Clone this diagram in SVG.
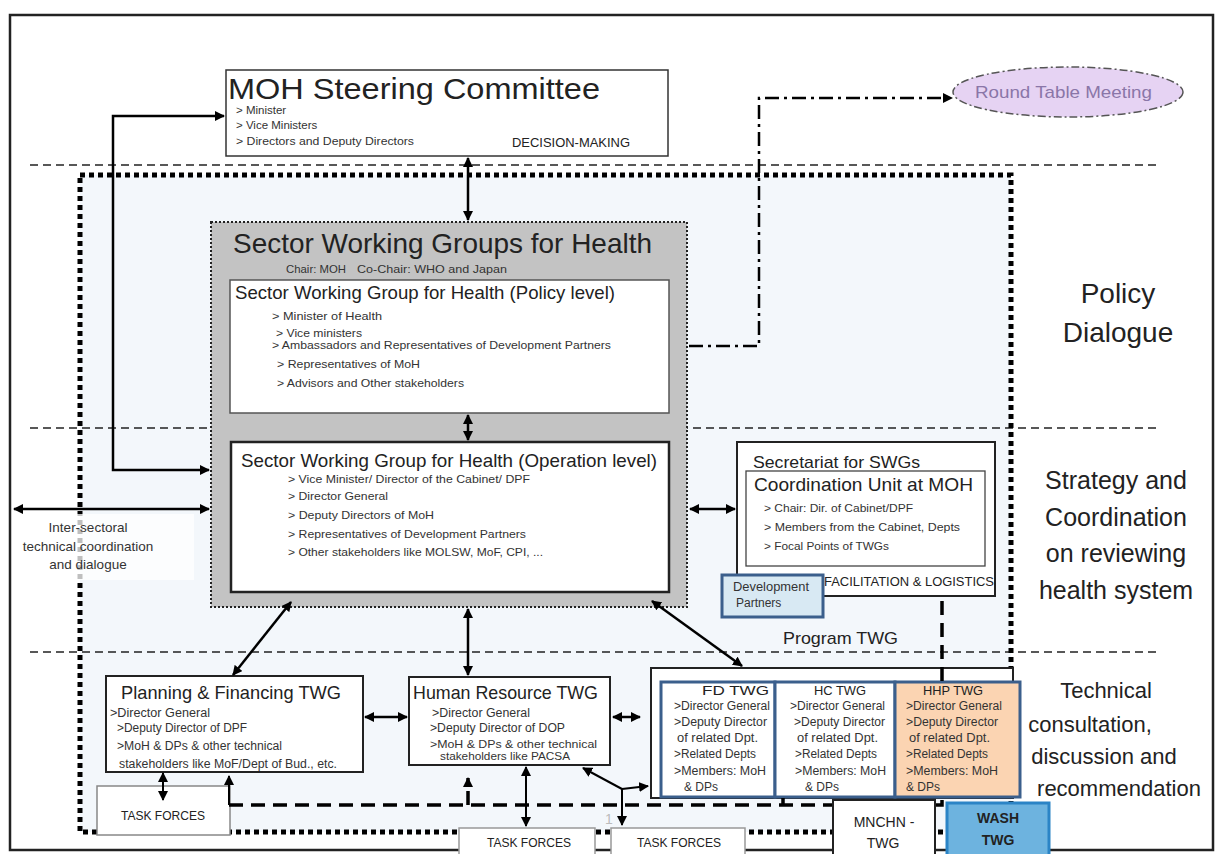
<svg xmlns="http://www.w3.org/2000/svg" width="1218" height="854" viewBox="0 0 1218 854">
<defs>
<style>
.t{font-family:"Liberation Sans",Arial,sans-serif;fill:#333}
.d{fill:#222}
.s{font-size:11.5px}
.w{font-size:12px}
.box{fill:#fff;stroke:#333;stroke-width:1.5}
.lvl{fill:none;stroke:#222;stroke-width:1.5;stroke-dasharray:8 5}
.con{fill:none;stroke:#000;stroke-width:2.5}
.twg{stroke:#3b5f8c;stroke-width:3}
.tdash{fill:none;stroke:#000;stroke-width:3.5;stroke-dasharray:14 8}
.rc{font-size:25px;text-anchor:middle}
</style>
<marker id="ah" viewBox="0 0 10 10" refX="9" refY="5" markerWidth="10" markerHeight="10" markerUnits="userSpaceOnUse" orient="auto-start-reverse"><path d="M0,0 L10,5 L0,10 z" fill="#000"/></marker>
</defs>
<rect x="0" y="0" width="1218" height="854" fill="#fff"/>
<rect x="10" y="15" width="1203" height="835" fill="#fff" stroke="#222" stroke-width="2.5"/>
<rect x="80" y="175" width="931" height="657" fill="#f3f7fb"/>
<g id="levels">
<line class="lvl" x1="30" y1="165" x2="1157" y2="165"/>
<line class="lvl" x1="30" y1="428" x2="1157" y2="428"/>
<line class="lvl" x1="30" y1="652" x2="1157" y2="652"/>
</g>
<rect id="boundary" x="80" y="175" width="931" height="657" fill="none" stroke="#000" stroke-width="5" stroke-dasharray="5 4"/>

<g id="intersectoral">
<rect x="14" y="514" width="180" height="66" fill="#fff" opacity="0.75"/>
<text class="t" font-size="13.5" text-anchor="middle"><tspan x="88" y="532">Inter-sectoral</tspan><tspan x="88" y="551">technical coordination</tspan><tspan x="88" y="569">and dialogue</tspan></text>
</g>

<g id="moh">
<rect class="box" x="226" y="70" width="442" height="86"/>
<text class="t d" x="228" y="99" font-size="30" textLength="372" lengthAdjust="spacingAndGlyphs">MOH Steering Committee</text>
<text class="t s" x="236" y="114">&gt; Minister</text>
<text class="t s" x="236" y="129">&gt; Vice Ministers</text>
<text class="t s" x="236" y="145" textLength="178" lengthAdjust="spacingAndGlyphs">&gt; Directors and Deputy Directors</text>
<text class="t d" x="512" y="147" font-size="13" textLength="118" lengthAdjust="spacingAndGlyphs">DECISION-MAKING</text>
</g>

<g id="roundtable">
<ellipse cx="1068" cy="92" rx="115" ry="25" fill="#e6d3f3" stroke="#555" stroke-width="1.5" stroke-dasharray="8 3 2 3"/>
<text class="t" x="975" y="98" font-size="17" style="fill:#8a76a8" textLength="177" lengthAdjust="spacingAndGlyphs">Round Table Meeting</text>
</g>

<g id="swg">
<rect x="211" y="222" width="476" height="385" fill="#c3c3c3" stroke="#222" stroke-width="2" stroke-dasharray="2 2"/>
<text class="t d" x="233" y="253" font-size="28" textLength="419" lengthAdjust="spacingAndGlyphs">Sector Working Groups for Health</text>
<text class="t" x="286" y="273" font-size="11" textLength="60" lengthAdjust="spacingAndGlyphs">Chair: MOH</text>
<text class="t" x="357" y="273" font-size="11" textLength="150" lengthAdjust="spacingAndGlyphs">Co-Chair: WHO and Japan</text>
</g>

<g id="policy">
<rect x="230" y="280" width="439" height="133" fill="#fff" stroke="#555" stroke-width="1.5"/>
<text class="t d" x="235" y="299" font-size="18.5" textLength="380" lengthAdjust="spacingAndGlyphs">Sector Working Group for Health (Policy level)</text>
<text class="t s" x="272" y="320" textLength="110" lengthAdjust="spacingAndGlyphs">&gt; Minister of Health</text>
<text class="t s" x="276" y="337" textLength="86" lengthAdjust="spacingAndGlyphs">&gt; Vice ministers</text>
<text class="t s" x="272" y="349" textLength="339" lengthAdjust="spacingAndGlyphs">&gt; Ambassadors and Representatives of Development Partners</text>
<text class="t s" x="277" y="368" textLength="143" lengthAdjust="spacingAndGlyphs">&gt; Representatives of MoH</text>
<text class="t s" x="277" y="387" textLength="187" lengthAdjust="spacingAndGlyphs">&gt; Advisors and Other stakeholders</text>
</g>

<g id="operation">
<rect x="231" y="442" width="438" height="150" fill="#fff" stroke="#222" stroke-width="2.5"/>
<text class="t d" x="241" y="467" font-size="18.5" textLength="416" lengthAdjust="spacingAndGlyphs">Sector Working Group for Health (Operation level)</text>
<text class="t s" x="288" y="483" textLength="242" lengthAdjust="spacingAndGlyphs">&gt; Vice Minister/ Director of the Cabinet/ DPF</text>
<text class="t s" x="288" y="500" textLength="100" lengthAdjust="spacingAndGlyphs">&gt; Director General</text>
<text class="t s" x="288" y="519" textLength="146" lengthAdjust="spacingAndGlyphs">&gt; Deputy Directors of MoH</text>
<text class="t s" x="288" y="538" textLength="238" lengthAdjust="spacingAndGlyphs">&gt; Representatives of Development Partners</text>
<text class="t s" x="288" y="556" textLength="255" lengthAdjust="spacingAndGlyphs">&gt; Other stakeholders like MOLSW, MoF, CPI, ...</text>
</g>

<g id="secretariat">
<rect x="737" y="442" width="258" height="154" fill="#fff" stroke="#222" stroke-width="2"/>
<text class="t d" x="753" y="468" font-size="17" textLength="167" lengthAdjust="spacingAndGlyphs">Secretariat for SWGs</text>
<rect x="746" y="471" width="239" height="95" fill="#fff" stroke="#444" stroke-width="1.3"/>
<text class="t d" x="754" y="491" font-size="19" textLength="219" lengthAdjust="spacingAndGlyphs">Coordination Unit at MOH</text>
<text class="t" x="764" y="512" font-size="11" textLength="149" lengthAdjust="spacingAndGlyphs">&gt; Chair: Dir. of Cabinet/DPF</text>
<text class="t" x="764" y="531" font-size="11" textLength="196" lengthAdjust="spacingAndGlyphs">&gt; Members from the Cabinet, Depts</text>
<text class="t" x="764" y="550" font-size="11" textLength="125" lengthAdjust="spacingAndGlyphs">&gt; Focal Points of TWGs</text>
<text class="t d" x="824" y="586" font-size="13" textLength="170" lengthAdjust="spacingAndGlyphs">FACILITATION &amp; LOGISTICS</text>
</g>

<g id="devpartners">
<rect x="722" y="575" width="101" height="42" fill="#d8e9f3" stroke="#3b5f8c" stroke-width="3"/>
<text class="t w" x="733" y="591" textLength="76" lengthAdjust="spacingAndGlyphs">Development</text>
<text class="t w" x="736" y="607">Partners</text>
</g>

<g id="rightlabels">
<text class="t d" font-size="28" text-anchor="middle"><tspan x="1118" y="303">Policy</tspan><tspan x="1118" y="342">Dialogue</tspan></text>
<text class="t d rc"><tspan x="1116" y="489">Strategy and</tspan><tspan x="1116" y="526">Coordination</tspan><tspan x="1116" y="562">on reviewing</tspan><tspan x="1116" y="599">health system</tspan></text>
<text class="t d" font-size="22" text-anchor="middle"><tspan x="1106" y="698">Technical</tspan><tspan x="1090" y="732">consultation,</tspan><tspan x="1104" y="764">discussion and</tspan><tspan x="1119" y="796">recommendation</tspan></text>
<text class="t d" x="783" y="644" font-size="17" textLength="115" lengthAdjust="spacingAndGlyphs">Program TWG</text>
</g>

<g id="planning">
<rect x="106" y="676" width="257" height="96" fill="#fff" stroke="#222" stroke-width="2"/>
<text class="t d" x="121" y="699" font-size="19" textLength="220" lengthAdjust="spacingAndGlyphs">Planning &amp; Financing TWG</text>
<text class="t w" x="110" y="717" textLength="100" lengthAdjust="spacingAndGlyphs">&gt;Director General</text>
<text class="t w" x="117" y="732" textLength="130" lengthAdjust="spacingAndGlyphs">&gt;Deputy Director of DPF</text>
<text class="t w" x="117" y="750" textLength="165" lengthAdjust="spacingAndGlyphs">&gt;MoH &amp; DPs &amp; other technical</text>
<text class="t w" x="119" y="768" textLength="218" lengthAdjust="spacingAndGlyphs">stakeholders like MoF/Dept of Bud., etc.</text>
</g>

<g id="hr">
<rect x="409" y="677" width="201" height="88" fill="#fff" stroke="#222" stroke-width="2"/>
<text class="t d" x="413" y="699" font-size="19" textLength="185" lengthAdjust="spacingAndGlyphs">Human Resource TWG</text>
<text class="t w" x="432" y="717" textLength="98" lengthAdjust="spacingAndGlyphs">&gt;Director General</text>
<text class="t w" x="430" y="732" textLength="135" lengthAdjust="spacingAndGlyphs">&gt;Deputy Director of DOP</text>
<text class="t" x="430" y="748" font-size="11" textLength="167" lengthAdjust="spacingAndGlyphs">&gt;MoH &amp; DPs &amp; other technical</text>
<text class="t" x="440" y="760" font-size="11" textLength="130" lengthAdjust="spacingAndGlyphs">stakeholders like PACSA</text>
</g>

<g id="tf-left">
<rect x="97" y="786" width="133" height="49" fill="#fff" stroke="#888" stroke-width="1.5"/>
<text class="t d" x="121" y="820" font-size="13" textLength="84" lengthAdjust="spacingAndGlyphs">TASK FORCES</text>
</g>
<g id="tf-mid">
<rect x="459" y="828" width="136" height="30" fill="#fff" stroke="#999" stroke-width="1.5"/>
<text class="t d" x="487" y="847" font-size="13" textLength="84" lengthAdjust="spacingAndGlyphs">TASK FORCES</text>
</g>
<g id="tf-right">
<rect x="611" y="828" width="134" height="30" fill="#fff" stroke="#999" stroke-width="1.5"/>
<text class="t d" x="637" y="847" font-size="13" textLength="84" lengthAdjust="spacingAndGlyphs">TASK FORCES</text>
</g>
<text class="t" x="605" y="824" font-size="14" style="fill:#bbb">1</text>

<g id="programtwg">
<rect x="651" y="668" width="362" height="130" fill="#fff" stroke="#222" stroke-width="2"/>
</g>
<g id="fd">
<rect class="twg" x="661" y="682" width="114" height="115" fill="#fff"/>
<text class="t d" x="702" y="695" font-size="13" textLength="67" lengthAdjust="spacingAndGlyphs">FD TWG</text>
<text class="t w" x="674" y="710" textLength="96" lengthAdjust="spacingAndGlyphs">&gt;Director General</text>
<text class="t w" x="674" y="726" textLength="93" lengthAdjust="spacingAndGlyphs">&gt;Deputy Director</text>
<text class="t w" x="677" y="742" textLength="81" lengthAdjust="spacingAndGlyphs">of related Dpt.</text>
<text class="t w" x="674" y="758" textLength="82" lengthAdjust="spacingAndGlyphs">&gt;Related Depts</text>
<text class="t w" x="674" y="775" textLength="92" lengthAdjust="spacingAndGlyphs">&gt;Members: MoH</text>
<text class="t w" x="684" y="791">&amp; DPs</text>
</g>
<g id="hc">
<rect class="twg" x="775" y="682" width="120" height="115" fill="#fff"/>
<text class="t d" x="814" y="695" font-size="13" textLength="52" lengthAdjust="spacingAndGlyphs">HC TWG</text>
<text class="t w" x="790" y="710" textLength="95" lengthAdjust="spacingAndGlyphs">&gt;Director General</text>
<text class="t w" x="794" y="726" textLength="91" lengthAdjust="spacingAndGlyphs">&gt;Deputy Director</text>
<text class="t w" x="797" y="742" textLength="81" lengthAdjust="spacingAndGlyphs">of related Dpt.</text>
<text class="t w" x="795" y="758" textLength="82" lengthAdjust="spacingAndGlyphs">&gt;Related Depts</text>
<text class="t w" x="795" y="775" textLength="91" lengthAdjust="spacingAndGlyphs">&gt;Members: MoH</text>
<text class="t w" x="805" y="791">&amp; DPs</text>
</g>
<g id="hhp">
<rect class="twg" x="895" y="682" width="125" height="115" fill="#fbd4b2"/>
<text class="t d" x="923" y="695" font-size="13" textLength="60" lengthAdjust="spacingAndGlyphs">HHP TWG</text>
<text class="t w" x="906" y="710" textLength="96" lengthAdjust="spacingAndGlyphs">&gt;Director General</text>
<text class="t w" x="906" y="726" textLength="92" lengthAdjust="spacingAndGlyphs">&gt;Deputy Director</text>
<text class="t w" x="909" y="742" textLength="81" lengthAdjust="spacingAndGlyphs">of related Dpt.</text>
<text class="t w" x="906" y="758" textLength="82" lengthAdjust="spacingAndGlyphs">&gt;Related Depts</text>
<text class="t w" x="906" y="775" textLength="92" lengthAdjust="spacingAndGlyphs">&gt;Members: MoH</text>
<text class="t w" x="906" y="791">&amp; DPs</text>
</g>

<g id="connectors">
<path class="tdash" d="M942,601 V681"/>
<path class="tdash" d="M229,805 H942 V798 M783,805 V798"/>
<path class="tdash" d="M468,805 V778" marker-end="url(#ah)"/>
<path class="con" style="stroke-width:2" d="M229,805 V776" marker-end="url(#ah)"/>
<path fill="none" stroke="#000" stroke-width="2.5" stroke-dasharray="14 5 3 5" d="M689,346 H759 V98 H952" marker-end="url(#ah)"/>
<path class="con" d="M224,116 H113 V470 H209" marker-start="url(#ah)" marker-end="url(#ah)"/>
<path class="con" d="M14,509 H209" marker-start="url(#ah)" marker-end="url(#ah)"/>
<path class="con" d="M468,158 V220" marker-start="url(#ah)" marker-end="url(#ah)"/>
<path class="con" d="M468,415 V440" marker-start="url(#ah)" marker-end="url(#ah)"/>
<path class="con" d="M690,509 H735" marker-start="url(#ah)" marker-end="url(#ah)"/>
<path class="con" d="M291,602 L233,675" marker-start="url(#ah)" marker-end="url(#ah)"/>
<path class="con" d="M468,609 V675" marker-start="url(#ah)" marker-end="url(#ah)"/>
<path class="con" d="M652,601 L742,666" marker-start="url(#ah)" marker-end="url(#ah)"/>
<path class="con" d="M365,717 H407" marker-start="url(#ah)" marker-end="url(#ah)"/>
<path class="con" d="M613,717 H640" marker-start="url(#ah)" marker-end="url(#ah)"/>
<path class="con" style="stroke-width:2" d="M163,773 V800" marker-start="url(#ah)" marker-end="url(#ah)"/>
<path class="con" style="stroke-width:2" d="M526,767 V826" marker-start="url(#ah)" marker-end="url(#ah)"/>
<path class="con" style="stroke-width:2" d="M622,789 L583,768" marker-end="url(#ah)"/>
<path class="con" style="stroke-width:2" d="M622,789 L648,786" marker-end="url(#ah)"/>
<path class="con" style="stroke-width:2" d="M622,789 V825" marker-end="url(#ah)"/>
</g>

<g id="mnchn">
<rect x="833" y="800" width="102" height="58" fill="#fff" stroke="#222" stroke-width="2"/>
<text class="t d" font-size="14" text-anchor="middle"><tspan x="884" y="827">MNCHN -</tspan><tspan x="883" y="848">TWG</tspan></text>
</g>
<g id="wash">
<rect x="947" y="803" width="102" height="55" fill="#6db3df" stroke="#2b84c6" stroke-width="3"/>
<text class="t d" font-size="14" font-weight="bold" text-anchor="middle"><tspan x="998" y="823">WASH</tspan><tspan x="998" y="845">TWG</tspan></text>
</g>
</svg>
